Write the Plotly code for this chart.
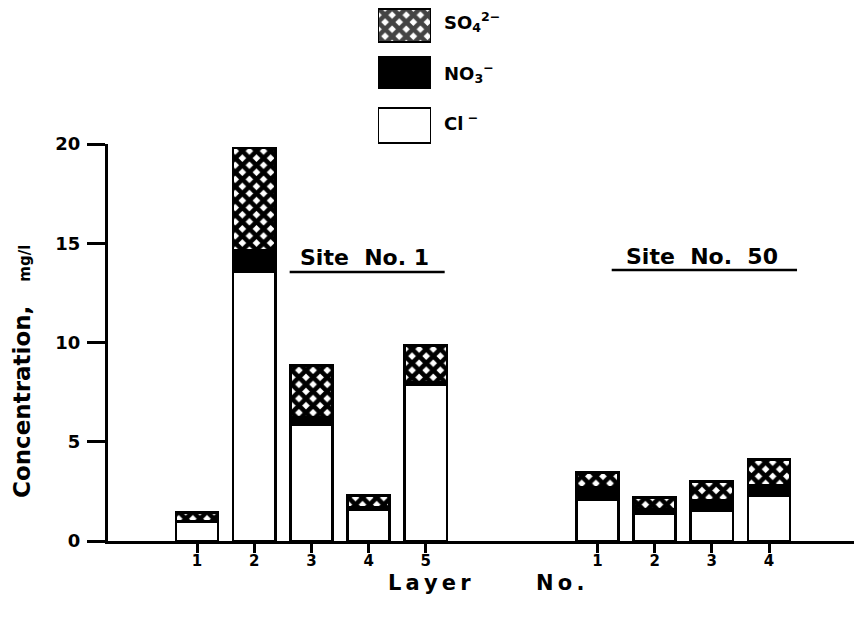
import plotly.graph_objects as go

# ---- data (mg/l) ----
site1_layers = ["1", "2", "3", "4", "5"]
site1_cl = [0.95, 13.55, 5.85, 1.6, 7.85]
site1_no3 = [0.05, 1.1, 0.4, 0.1, 0.15]
site1_so4 = [0.45, 5.15, 2.6, 0.6, 1.85]

site50_layers = ["1", "2", "3", "4"]
site50_cl = [2.1, 1.4, 1.55, 2.3]
site50_no3 = [0.6, 0.2, 0.5, 0.5]
site50_so4 = [0.75, 0.6, 0.95, 1.3]

y_ticks = [0, 5, 10, 15, 20]

# ---- positions ----
site50_offset = 7
x1 = [i + 1 for i in range(len(site1_layers))]
x50 = [i + 1 + site50_offset for i in range(len(site50_layers))]
xs = x1 + x50
cl = site1_cl + site50_cl
no3 = site1_no3 + site50_no3
so4 = site1_so4 + site50_so4

FONT = "DejaVu Sans"
BW = 0.74
LW = 2.6
PAT = dict(shape="x", fgcolor="black", fgopacity=1, bgcolor="white", size=10, solidity=0.7,
           fillmode="overlay")

# page body has an 8px margin; compensate so the drawing lands where the reference has it
OFF = 8
W, H = 862 - OFF, 625 - OFF
ML, MB = 108 - OFF, 84
PW, PH = W - ML, H - MB


def px(sx):
    return (sx - 108) / PW


def py(sy):
    return 1 - (sy - OFF) / PH


fig = go.Figure()
fig.add_trace(go.Bar(x=xs, y=cl, width=BW, name="Cl⁻",
                     marker=dict(color="white", line=dict(color="black", width=LW))))
fig.add_trace(go.Bar(x=xs, y=no3, width=BW, name="NO3⁻",
                     marker=dict(color="black", line=dict(color="black", width=LW))))
fig.add_trace(go.Bar(x=xs, y=so4, width=BW, name="SO4²⁻",
                     marker=dict(color="white", line=dict(color="black", width=LW), pattern=PAT)))

# legend boxes on their own small axes (axis units = screen pixels from top)
fig.add_trace(go.Bar(x=[0.5, 0.5, 0.5], y=[33, 31, 35], base=[9, 57, 108], width=1,
                     xaxis="x2", yaxis="y2", showlegend=False, hoverinfo="skip",
                     marker=dict(color=["white", "black", "white"],
                                 line=dict(color="black", width=LW),
                                 pattern=dict(PAT, shape=["x", "", ""]))))

b = lambda s: f"<b>{s}</b>"
blk = "black"

annotations = [
    dict(x=3.93, y=14.3, xref="x", yref="y", text=b("Site  No. 1"),
         showarrow=False, font=dict(family=FONT, size=22, color=blk)),
    dict(x=9.82, y=14.35, xref="x", yref="y", text=b("Site  No.  50"),
         showarrow=False, font=dict(family=FONT, size=22, color=blk)),
    dict(x=px(442), y=py(22), xref="paper", yref="paper", xanchor="left", yanchor="middle",
         showarrow=False, text=b("SO<sub>4</sub><sup>2−</sup>"), font=dict(family=FONT, size=18, color=blk)),
    dict(x=px(442), y=py(73), xref="paper", yref="paper", xanchor="left", yanchor="middle",
         showarrow=False, text=b("NO<sub>3</sub><sup>−</sup>"), font=dict(family=FONT, size=18, color=blk)),
    dict(x=px(442), y=py(122), xref="paper", yref="paper", xanchor="left", yanchor="middle",
         showarrow=False, text=b("Cl<sup> −</sup>"), font=dict(family=FONT, size=18, color=blk)),
    dict(x=px(22), y=py(372), xref="paper", yref="paper", textangle=-90, showarrow=False,
         xanchor="center", yanchor="middle",
         text=b("Concentration,   <span style='font-size:15px'>mg/l</span>"),
         font=dict(family=FONT, size=23, color=blk)),
    dict(x=px(429), y=py(583), xref="paper", yref="paper", showarrow=False,
         xanchor="center", yanchor="middle",
         text=b("L\u2009a\u2009y\u2009e\u2009r"), font=dict(family=FONT, size=21, color=blk)),
    dict(x=px(560), y=py(583), xref="paper", yref="paper", showarrow=False,
         xanchor="center", yanchor="middle",
         text=b("N\u2009o\u2009."), font=dict(family=FONT, size=21, color=blk)),
]

shapes = [
    dict(type="line", xref="x", yref="y", x0=2.62, x1=5.33, y0=13.55, y1=13.55,
         line=dict(color=blk, width=2.5)),
    dict(type="line", xref="x", yref="y", x0=8.25, x1=11.49, y0=13.65, y1=13.65,
         line=dict(color=blk, width=2.5)),
]

x_lo = 1 - (197 - 108) / 57.2
x_hi = x_lo + PW / 57.2

fig.update_layout(
    width=W, height=H,
    margin=dict(l=ML, r=0, t=0, b=MB, autoexpand=False),
    barmode="stack",
    showlegend=False,
    plot_bgcolor="white", paper_bgcolor="white",
    font=dict(family=FONT, color=blk),
    xaxis=dict(range=[x_lo, x_hi], tickvals=xs, ticktext=site1_layers + site50_layers,
               showline=True, linewidth=3, linecolor=blk, ticks="outside", ticklen=9,
               tickwidth=2.5, tickcolor=blk, showgrid=False, zeroline=False, automargin=False,
               ticklabelstandoff=-5,
               tickfont=dict(family=FONT, size=15, color=blk, weight="bold"), anchor="y"),
    yaxis=dict(domain=[0, (541 - 144) / PH], range=[0, 20], tickvals=y_ticks,
               showline=True, linewidth=3, linecolor=blk, ticks="outside", ticklen=18,
               tickwidth=2.5, tickcolor=blk, showgrid=False, zeroline=False, automargin=False,
               tickfont=dict(family=FONT, size=18, color=blk, weight="bold"), ticklabelstandoff=3),
    xaxis2=dict(domain=[px(378), px(431)], range=[0, 1], visible=False, anchor="y2"),
    yaxis2=dict(domain=[py(145), 1], range=[145, OFF], visible=False, anchor="x2"),
    annotations=annotations,
    shapes=shapes,
)

fig.write_html("out.html")
